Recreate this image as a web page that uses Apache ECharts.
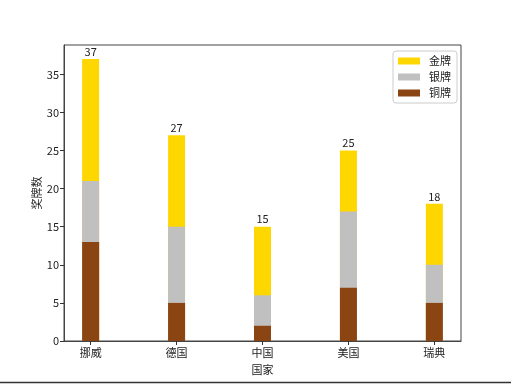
<!DOCTYPE html>
<html><head><meta charset="utf-8">
<script src="https://cdn.jsdelivr.net/npm/echarts@6/dist/echarts.min.js"></script>
<style>html,body{margin:0;padding:0;background:#fff}#c{width:511px;height:384px}</style>
</head><body><div id="c"></div>
<script>
const categories = ['挪威', '德国', '中国', '美国', '瑞典'];
const gold = [16, 12, 9, 8, 8];
const silver = [8, 10, 4, 10, 5];
const bronze = [13, 5, 2, 7, 5];
const yTicks = [0, 5, 10, 15, 20, 25, 30, 35];

const FONT = '"Noto Sans CJK SC", "DejaVu Sans", sans-serif';
// cumulative tops of each layer (bars overlap, drawn from the bottom of the axis)
const bronzeTop = bronze.map((v, i) => [i, v]);
const silverTop = silver.map((v, i) => [i, bronze[i] + v]);
const goldTop = gold.map((v, i) => [i, bronze[i] + silver[i] + v]);
const chart = echarts.init(document.getElementById('c'));
chart.setOption({
  animation: false,
  textStyle: { fontFamily: FONT },
  grid: { left: 64, right: 50, top: 45, bottom: 43, show: true, borderColor: '#444', borderWidth: 1, backgroundColor: '#fff' },
  xAxis: {
    type: 'value', min: -0.31, max: 4.31,
    name: '国家', nameLocation: 'middle', nameGap: 23,
    nameTextStyle: { color: '#222', fontSize: 11, fontFamily: FONT },
    splitLine: { show: false },
    axisLine: { show: true, onZero: false, lineStyle: { color: '#444' } },
    axisTick: { show: true, customValues: [0, 1, 2, 3, 4], length: 4, lineStyle: { color: '#333' } },
    axisLabel: { customValues: [0, 1, 2, 3, 4], formatter: v => categories[Math.round(v)], color: '#222', fontSize: 11, margin: 6, fontFamily: FONT }
  },
  yAxis: {
    type: 'value', min: 0, max: 38.85,
    name: '奖牌数', nameLocation: 'middle', nameGap: 22, nameRotate: 90, nameMoveOverlap: false,
    nameTextStyle: { color: '#222', fontSize: 11, fontFamily: FONT },
    splitLine: { show: false },
    axisLine: { show: true, onZero: false, lineStyle: { color: '#444' } },
    axisTick: { show: true, customValues: yTicks, length: 4, lineStyle: { color: '#333' } },
    axisLabel: { customValues: yTicks, color: '#222', fontSize: 11, margin: 5, fontFamily: FONT }
  },
  legend: {
    orient: 'vertical', left: 393, top: 51,
    itemWidth: 22, itemHeight: 7, itemGap: 4, icon: 'rect',
    padding: [4, 6, 4, 5],
    borderColor: '#ccc', borderWidth: 1, borderRadius: 3,
    textStyle: { fontSize: 11, color: '#222', lineHeight: 12, fontFamily: FONT, padding: [0, 0, 0, 4] },
    data: ['金牌', '银牌', '铜牌']
  },
  series: [
    { name: '金牌', type: 'bar', data: goldTop, barWidth: 17, barGap: '-100%', z: 2, itemStyle: { color: '#FFD700' },
      label: { show: true, position: 'top', distance: 2, color: '#222', fontSize: 11, fontFamily: FONT,
        formatter: p => String(p.value[1]) } },
    { name: '银牌', type: 'bar', data: silverTop, barWidth: 17, barGap: '-100%', z: 3, itemStyle: { color: '#C0C0C0' } },
    { name: '铜牌', type: 'bar', data: bronzeTop, barWidth: 17, barGap: '-100%', z: 4, itemStyle: { color: '#8B4513' } }
  ],
  graphic: [
    { type: 'line', shape: { x1: 0, y1: 382.5, x2: 511, y2: 382.5 }, style: { stroke: '#333', lineWidth: 1.5 } }
  ]
});
</script></body></html>
